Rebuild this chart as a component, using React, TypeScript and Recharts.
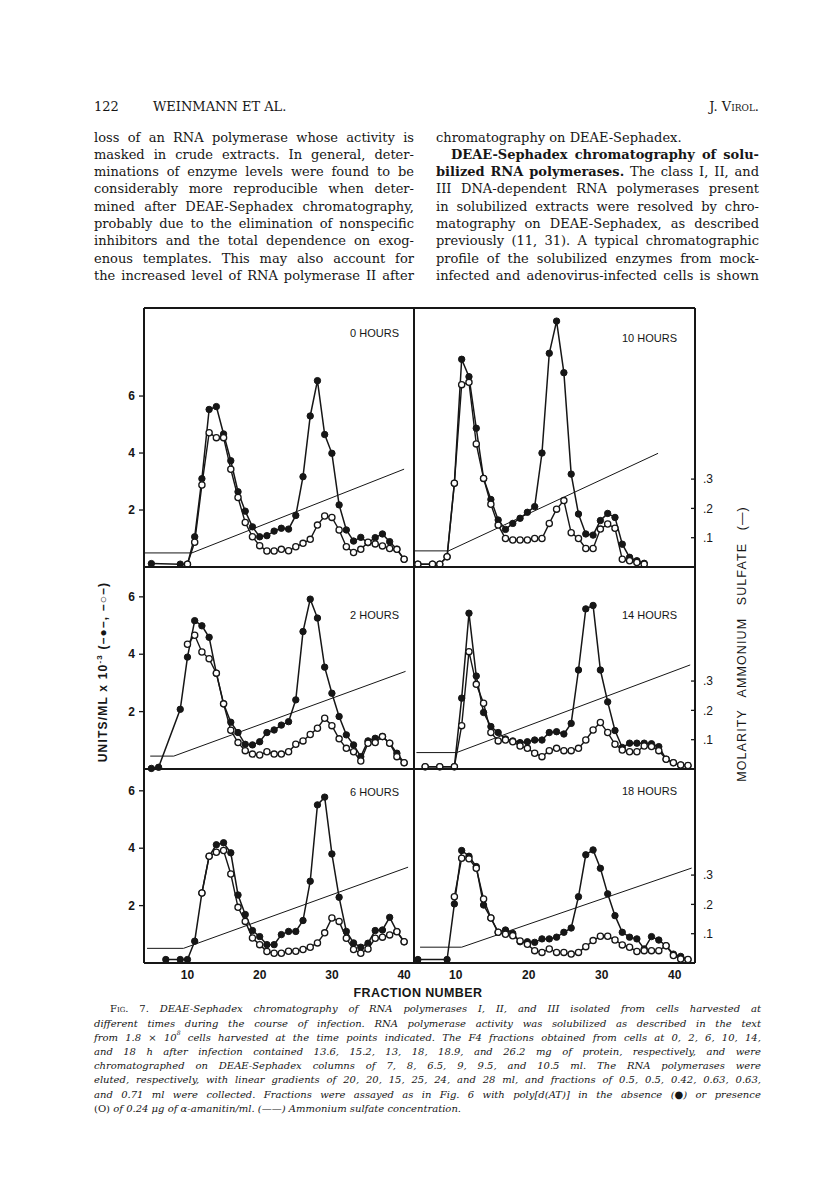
import React from "react";
import { LineChart, Line, XAxis, YAxis, ReferenceLine } from "recharts";

const INK = "#161616";
const SANS = '"Liberation Sans", Arial, Helvetica, sans-serif';
const SERIF = '"DejaVu Serif", "Liberation Serif", Georgia, serif';

// ---- axis ticks ----
const fractionTicks = [10, 20, 30, 40];
const unitTicks = [2, 4, 6];
const molarityTicks = [0.1, 0.2, 0.3];

// ---- 0 hours ----
const fractions0h = [5, 9, 10, 11, 12, 13, 14, 15, 16, 17, 18, 19, 20, 21, 22, 23, 24, 25, 26, 27, 28, 29, 30, 31, 32, 33, 34, 35, 36, 37, 38, 39, 40];
const minus0h = [0.12, 0.1, 0.1, 1.06, 3.1, 5.53, 5.63, 4.67, 3.73, 2.64, 1.96, 1.41, 1.06, 1.1, 1.26, 1.36, 1.33, 1.81, 3.17, 5.3, 6.54, 4.65, 3.99, 2.18, 1.3, 0.91, 1.04, 0.85, 1.03, 1.16, 0.89, 0.62, 0.27];
const plus0h = [null, null, 0.1, 0.87, 2.88, 4.71, 4.54, 4.54, 3.43, 2.44, 1.56, 1.06, 0.75, 0.56, 0.56, 0.62, 0.57, 0.71, 0.83, 0.97, 1.47, 1.79, 1.74, 1.3, 0.71, 0.51, 0.62, 0.87, 0.81, 0.74, 0.65, 0.62, 0.27];
const saltFractions0h = [4, 10.6, 40];
const saltMolarity0h = [0.048, 0.048, 0.334];

// ---- 2 hours ----
const fractions2h = [5, 6, 9, 10, 11, 12, 13, 14, 15, 16, 17, 18, 19, 20, 21, 22, 23, 24, 25, 26, 27, 28, 29, 30, 31, 32, 33, 34, 35, 36, 37, 38, 39, 40];
const minus2h = [0.02, 0.06, 2.08, 3.9, 5.17, 4.99, 4.59, 3.34, 2.27, 1.63, 1.27, 0.86, 0.84, 0.95, 1.27, 1.36, 1.53, 1.65, 2.41, 4.79, 5.92, 5.26, 3.55, 2.64, 1.83, 1.19, 0.84, 0.43, 0.98, 1.07, 1.13, 0.9, 0.55, 0.22];
const plus2h = [null, null, null, 4.35, 4.66, 4.08, 3.84, 3.34, 2.27, 1.35, 0.92, 0.64, 0.52, 0.49, 0.6, 0.52, 0.52, 0.6, 0.86, 0.98, 1.2, 1.42, 1.77, 1.51, 1.05, 0.72, 0.6, 0.28, 0.9, 0.92, 1.13, 0.9, 0.43, 0.22];
const saltFractions2h = [4.84, 8.1, 40.2];
const saltMolarity2h = [0.044, 0.044, 0.333];

// ---- 6 hours ----
const fractions6h = [7, 9, 10, 11, 12, 13, 14, 15, 16, 17, 18, 19, 20, 21, 22, 23, 24, 25, 26, 27, 28, 29, 30, 31, 32, 33, 34, 35, 36, 37, 38, 39, 40];
const minus6h = [0.12, 0.12, 0.12, 0.76, 2.44, 3.72, 4.12, 4.19, 3.84, 2.37, 1.69, 1.13, 0.92, 0.64, 0.64, 0.99, 1.1, 1.1, 1.48, 2.85, 5.51, 5.78, 3.8, 2.29, 1.1, 0.7, 0.55, 0.69, 1.13, 1.15, 1.59, 1.1, 0.74];
const plus6h = [null, null, null, null, 2.44, 3.72, 3.86, 3.92, 3.1, 1.94, 1.45, 0.87, 0.64, 0.4, 0.34, 0.34, 0.41, 0.41, 0.47, 0.55, 0.7, 1.05, 1.57, 1.45, 0.86, 0.47, 0.34, 0.49, 0.86, 0.9, 0.98, 1.09, 0.74];
const saltFractions6h = [4.4, 9.45, 40.55];
const saltMolarity6h = [0.05, 0.05, 0.327];

// ---- 10 hours ----
const fractions10h = [4, 6, 7, 8, 9, 10, 11, 12, 13, 14, 15, 16, 17, 18, 19, 20, 21, 22, 23, 24, 25, 26, 27, 28, 29, 30, 31, 32, 33, 34, 35];
const minus10h = [0.1, 0.1, 0.1, 0.36, 2.94, 7.29, 6.68, 4.87, 3.11, 2.37, 1.65, 1.32, 1.53, 1.71, 1.92, 2.12, 4.0, 7.5, 8.63, 6.82, 3.26, 1.86, 1.16, 1.12, 1.63, 1.88, 1.74, 0.8, 0.34, 0.22, 0.13];
const plus10h = [0.1, 0.1, 0.1, 0.36, 2.94, 6.4, 6.48, 4.32, 3.11, 2.2, 1.47, 1.0, 0.95, 0.95, 0.95, 1.0, 1.0, 1.53, 2.03, 2.33, 1.2, 1.0, 0.65, 0.65, 1.33, 1.51, 1.36, 0.27, 0.22, 0.16, 0.1];
const saltFractions10h = [3.5, 8.2, 36.9];
const saltMolarity10h = [0.055, 0.055, 0.388];

// ---- 14 hours ----
const fractions14h = [5, 7, 9, 10, 11, 12, 13, 14, 15, 16, 17, 18, 19, 20, 21, 22, 23, 24, 25, 26, 27, 28, 29, 30, 31, 32, 33, 34, 35, 36, 37, 38, 39, 40, 41];
const minus14h = [0.08, 0.08, 0.08, 2.47, 5.43, 3.24, 1.97, 1.48, 1.27, 1.05, 0.98, 0.92, 0.95, 1.01, 1.01, 1.27, 1.3, 1.22, 1.59, 3.45, 5.58, 5.7, 3.45, 2.34, 1.34, 0.75, 0.9, 0.9, 0.9, 0.88, 0.78, 0.34, 0.22, 0.14, 0.12];
const plus14h = [0.08, 0.08, 0.08, 1.51, 4.09, 2.95, 2.29, 1.27, 0.98, 1.01, 0.95, 0.8, 0.72, 0.55, 0.43, 0.64, 0.72, 0.64, 0.64, 0.72, 1.01, 1.36, 1.62, 1.27, 0.86, 0.66, 0.6, 0.6, 0.8, 0.78, 0.64, 0.34, 0.22, 0.14, 0.12];
const saltFractions14h = [3.8, 9.3, 41.3];
const saltMolarity14h = [0.056, 0.056, 0.355];

// ---- 18 hours ----
const fractions18h = [4, 8, 9, 10, 11, 12, 13, 14, 15, 16, 17, 18, 19, 20, 21, 22, 23, 24, 25, 26, 27, 28, 29, 30, 31, 32, 33, 34, 35, 36, 37, 38, 39, 40, 41];
const minus18h = [0.12, 0.12, 2.06, 3.92, 3.72, 3.36, 2.02, 1.57, 1.07, 1.15, 1.03, 0.74, 0.74, 0.72, 0.84, 0.84, 0.9, 1.07, 1.22, 2.31, 3.77, 3.94, 3.3, 2.41, 1.65, 1.07, 0.9, 0.84, 0.49, 0.92, 0.8, 0.6, 0.31, 0.23, 0.12];
const plus18h = [null, null, 2.31, 3.65, 3.63, 3.3, 2.23, 1.57, 1.07, 1.0, 0.95, 0.77, 0.65, 0.43, 0.37, 0.49, 0.37, 0.37, 0.31, 0.37, 0.57, 0.78, 0.93, 0.93, 0.8, 0.63, 0.55, 0.4, 0.43, 0.43, 0.43, 0.6, 0.26, 0.14, 0.12];
const saltFractions18h = [4.3, 10.0, 41.5];
const saltMolarity18h = [0.054, 0.054, 0.324];

// ---- layout ----
const M = 4;
const COLS: Record<string, any> = {
  left: { x: 144, w: 270, domain: [3.98, 41.37], labelRight: 399, tickShift: 0 },
  right: { x: 414, w: 281, domain: [3.47, 41.96], labelRight: 677, tickShift: -6 },
};
const ROWS = [
  { y: 308, h: 259, units: 9.09, molar: 0.884, bottom: false },
  { y: 567, h: 202, units: 7.04, molar: 0.689, bottom: false },
  { y: 769, h: 194, units: 6.76, molar: 0.662, bottom: true },
];

const PANELS = [
  { label: "0 HOURS", col: "left", row: 0, labelY: 333, fractions: fractions0h, minus: minus0h, plus: plus0h, saltF: saltFractions0h, saltM: saltMolarity0h },
  { label: "10 HOURS", col: "right", row: 0, labelY: 338, fractions: fractions10h, minus: minus10h, plus: plus10h, saltF: saltFractions10h, saltM: saltMolarity10h },
  { label: "2 HOURS", col: "left", row: 1, labelY: 615, fractions: fractions2h, minus: minus2h, plus: plus2h, saltF: saltFractions2h, saltM: saltMolarity2h },
  { label: "14 HOURS", col: "right", row: 1, labelY: 615, fractions: fractions14h, minus: minus14h, plus: plus14h, saltF: saltFractions14h, saltM: saltMolarity14h },
  { label: "6 HOURS", col: "left", row: 2, labelY: 792, fractions: fractions6h, minus: minus6h, plus: plus6h, saltF: saltFractions6h, saltM: saltMolarity6h },
  { label: "18 HOURS", col: "right", row: 2, labelY: 791, fractions: fractions18h, minus: minus18h, plus: plus18h, saltF: saltFractions18h, saltM: saltMolarity18h },
];

function FractionTick({ x, y, payload, shift }: any) {
  return (
    <text x={x + shift} y={y} dy="0.71em" textAnchor="middle" fill={INK} fontSize={12} fontWeight={700} fontFamily={SANS}>
      {payload.value}
    </text>
  );
}

function MolarityTick({ x, y, payload }: any) {
  const axisX = x - 8;
  return (
    <g>
      <line x1={axisX} x2={axisX - 4} y1={y} y2={y} stroke={INK} strokeWidth={1.3} />
      <text x={x} y={y} dy="0.35em" textAnchor="start" fill={INK} fontSize={12} fontFamily={SANS}>
        {String(payload.value).replace(/^0/, "")}
      </text>
    </g>
  );
}

function Panel(p: any) {
  const col = COLS[p.col];
  const row = ROWS[p.row];
  const isLeft = p.col === "left";
  const padL = isLeft ? 40 : 0;
  const padR = isLeft ? 0 : 34;
  const padB = row.bottom ? 26 : 0;
  const points = p.fractions.map((f: number, i: number) => ({ fraction: f, minus: p.minus[i], plus: p.plus[i] }));
  const salt = p.saltF.map((f: number, i: number) => ({ fraction: f, molarity: p.saltM[i] }));
  const frame = { stroke: INK, strokeWidth: 2 };
  const tickLine = { stroke: INK, strokeWidth: 1.3 };

  return (
    <>
      <div style={{ position: "absolute", left: col.x - padL - M, top: row.y - M }}>
        <LineChart
          width={padL + col.w + padR + 2 * M}
          height={row.h + padB + 2 * M}
          margin={{ top: M, right: M, bottom: M, left: M }}
        >
          {row.bottom ? (
            <XAxis
              xAxisId="f"
              type="number"
              dataKey="fraction"
              domain={col.domain}
              ticks={fractionTicks}
              interval={0}
              height={padB}
              axisLine={frame}
              tickLine={false}
              tickSize={0}
              tickMargin={7}
              tick={(t: any) => <FractionTick {...t} shift={col.tickShift} />}
            />
          ) : (
            <XAxis
              xAxisId="f"
              type="number"
              dataKey="fraction"
              domain={col.domain}
              ticks={fractionTicks}
              interval={0}
              mirror
              tick={false}
              tickSize={4}
              axisLine={frame}
              tickLine={tickLine}
            />
          )}
          {isLeft ? (
            <YAxis
              yAxisId="u"
              domain={[0, row.units]}
              ticks={unitTicks}
              interval={0}
              width={padL}
              tickSize={5}
              tickMargin={4}
              axisLine={frame}
              tickLine={tickLine}
              tick={{ fill: INK, fontSize: 12, fontWeight: 700, fontFamily: SANS }}
            />
          ) : (
            <YAxis yAxisId="u" domain={[0, row.units]} mirror tick={false} tickLine={false} axisLine={frame} />
          )}
          {isLeft ? (
            <YAxis
              yAxisId="m"
              orientation="right"
              domain={[0, row.molar]}
              ticks={molarityTicks}
              interval={0}
              mirror
              tick={false}
              tickSize={4}
              axisLine={frame}
              tickLine={tickLine}
            />
          ) : (
            <YAxis
              yAxisId="m"
              orientation="right"
              domain={[0, row.molar]}
              ticks={molarityTicks}
              interval={0}
              width={padR}
              tickSize={6}
              tickMargin={2}
              tickLine={false}
              axisLine={frame}
              tick={(t: any) => <MolarityTick {...t} />}
            />
          )}
          <ReferenceLine xAxisId="f" yAxisId="u" y={row.units} stroke={INK} strokeWidth={2} />
          <Line
            xAxisId="f"
            yAxisId="m"
            data={salt}
            dataKey="molarity"
            type="linear"
            stroke={INK}
            strokeWidth={1}
            dot={false}
            activeDot={false}
            isAnimationActive={false}
          />
          <Line
            xAxisId="f"
            yAxisId="u"
            data={points}
            dataKey="minus"
            type="linear"
            stroke={INK}
            strokeWidth={1.5}
            dot={{ r: 3.2, fill: INK, stroke: INK, strokeWidth: 1 }}
            activeDot={false}
            isAnimationActive={false}
          />
          <Line
            xAxisId="f"
            yAxisId="u"
            data={points}
            dataKey="plus"
            type="linear"
            stroke={INK}
            strokeWidth={1.4}
            dot={{ r: 3.1, fill: "#fff", stroke: INK, strokeWidth: 1.3 }}
            activeDot={false}
            isAnimationActive={false}
          />
        </LineChart>
      </div>
      <div
        style={{
          position: "absolute",
          left: col.labelRight - 120,
          width: 120,
          top: p.labelY - 7,
          lineHeight: "14px",
          textAlign: "right",
          fontFamily: SANS,
          fontSize: 11,
          color: INK,
          whiteSpace: "nowrap",
        }}
      >
        {p.label}
      </div>
    </>
  );
}

// ---- page text ----
const leftColumnLines = [
  "loss of an RNA polymerase whose activity is",
  "masked in crude extracts. In general, deter-",
  "minations of enzyme levels were found to be",
  "considerably more reproducible when deter-",
  "mined after DEAE-Sephadex chromatography,",
  "probably due to the elimination of nonspecific",
  "inhibitors and the total dependence on exog-",
  "enous templates. This may also account for",
  "the increased level of RNA polymerase II after",
];
const rightColumnLines = [
  "chromatography on DEAE-Sephadex.",
  "*DEAE-Sephadex *chromatography *of *solu-",
  "*bilized *RNA *polymerases. The class I, II, and",
  "III DNA-dependent RNA polymerases present",
  "in solubilized extracts were resolved by chro-",
  "matography on DEAE-Sephadex, as described",
  "previously (11, 31). A typical chromatographic",
  "profile of the solubilized enzymes from mock-",
  "infected and adenovirus-infected cells is shown",
];
const captionLines = [
  "~Fig. ~7. DEAE-Sephadex chromatography of RNA polymerases I, II, and III isolated from cells harvested at",
  "different times during the course of infection. RNA polymerase activity was solubilized as described in the text",
  "from 1.8 × 10^8 cells harvested at the time points indicated. The F4 fractions obtained from cells at 0, 2, 6, 10, 14,",
  "and 18 h after infection contained 13.6, 15.2, 13, 18, 18.9, and 26.2 mg of protein, respectively, and were",
  "chromatographed on DEAE-Sephadex columns of 7, 8, 6.5, 9, 9.5, and 10.5 ml. The RNA polymerases were",
  "eluted, respectively, with linear gradients of 20, 20, 15, 25, 24, and 28 ml, and fractions of 0.5, 0.5, 0.42, 0.63, 0.63,",
  "and 0.71 ml were collected. Fractions were assayed as in Fig. 6 with poly[d(AT)] in the absence (●) or presence",
  "~(O) of 0.24 μg of α-amanitin/ml. (——) Ammonium sulfate concentration.",
];

function renderToken(tok: string, i: number) {
  const style: React.CSSProperties = {};
  let t = tok;
  if (t.startsWith("*")) {
    style.fontWeight = "bold";
    t = t.slice(1);
  }
  if (t.startsWith("~")) {
    style.fontStyle = "normal";
    style.fontVariant = "small-caps";
    t = t.slice(1);
  }
  const m = t.match(/^(.*)\^(\d+)$/);
  const content = m ? (
    <>
      {m[1]}
      <sup style={{ fontSize: "0.6em", verticalAlign: "top", lineHeight: 1, position: "relative", top: -1 }}>{m[2]}</sup>
    </>
  ) : (
    t
  );
  return (
    <span key={i} style={style}>
      {content}
    </span>
  );
}

function TextLine({ text, width, justify, indent = 0, lh }: any) {
  const tokens = text.split(" ");
  if (justify) {
    return (
      <div
        style={{
          display: "flex",
          justifyContent: "space-between",
          width: width - indent,
          marginLeft: indent,
          height: lh,
          lineHeight: `${lh}px`,
          whiteSpace: "nowrap",
        }}
      >
        {tokens.map(renderToken)}
      </div>
    );
  }
  return (
    <div style={{ height: lh, lineHeight: `${lh}px`, marginLeft: indent, whiteSpace: "pre" }}>
      {tokens.map((t: string, i: number) => (
        <React.Fragment key={i}>
          {i > 0 ? " " : ""}
          {renderToken(t, i)}
        </React.Fragment>
      ))}
    </div>
  );
}

export default function App() {
  const bodyLH = 17.3;
  const capLH = 14.2;
  return (
    <div
      style={{
        position: "absolute",
        left: 0,
        top: 0,
        width: 816,
        height: 1193,
        background: "#fff",
        color: INK,
        overflow: "hidden",
        fontFamily: SERIF,
      }}
    >
      {/* running head */}
      <div style={{ position: "absolute", left: 94, top: 97.8, fontSize: 13, lineHeight: `${bodyLH}px` }}>122</div>
      <div style={{ position: "absolute", left: 153, top: 97.8, fontSize: 13, lineHeight: `${bodyLH}px` }}>WEINMANN ET AL.</div>
      <div
        style={{ position: "absolute", left: 559, width: 200, textAlign: "right", top: 97.8, fontSize: 13, lineHeight: `${bodyLH}px` }}
      >
        J. <span style={{ fontVariant: "small-caps" }}>Virol.</span>
      </div>

      {/* body text */}
      <div style={{ position: "absolute", left: 94, top: 128.6, width: 320, fontSize: 13 }}>
        {leftColumnLines.map((l, i) => (
          <TextLine key={i} text={l} width={320} justify lh={bodyLH} />
        ))}
      </div>
      <div style={{ position: "absolute", left: 436, top: 128.6, width: 323, fontSize: 13 }}>
        {rightColumnLines.map((l, i) => (
          <TextLine key={i} text={l} width={323} justify={i > 0} indent={i === 1 ? 15 : 0} lh={bodyLH} />
        ))}
      </div>

      {/* chart panels */}
      {PANELS.map((p) => (
        <Panel key={p.label} {...p} />
      ))}

      {/* axis titles */}
      <div
        style={{
          position: "absolute",
          left: 103,
          top: 672,
          transform: "translate(-50%, -50%) rotate(-90deg)",
          whiteSpace: "nowrap",
          fontFamily: SANS,
          fontSize: 12,
          fontWeight: 700,
          letterSpacing: 1.2,
          lineHeight: "14px",
        }}
      >
        UNITS/ML x 10<sup style={{ fontSize: 8, lineHeight: 0 }}>-3</sup> (–●–, –○–)
      </div>
      <div
        style={{
          position: "absolute",
          left: 742,
          top: 644,
          transform: "translate(-50%, -50%) rotate(-90deg)",
          whiteSpace: "nowrap",
          fontFamily: SANS,
          fontSize: 12.5,
          letterSpacing: 1.1,
          wordSpacing: 8,
          lineHeight: "14px",
        }}
      >
        MOLARITY AMMONIUM SULFATE (—)
      </div>
      <div
        style={{
          position: "absolute",
          left: 418,
          top: 993,
          transform: "translate(-50%, -50%)",
          whiteSpace: "nowrap",
          fontFamily: SANS,
          fontSize: 12.5,
          fontWeight: 700,
          letterSpacing: 0.4,
          lineHeight: "14px",
        }}
      >
        FRACTION NUMBER
      </div>

      {/* caption */}
      <div style={{ position: "absolute", left: 94, top: 1002.4, width: 667, fontSize: 10, fontStyle: "italic" }}>
        {captionLines.map((l, i) => (
          <TextLine key={i} text={l} width={667} justify={i < captionLines.length - 1} indent={i === 0 ? 16 : 0} lh={capLH} />
        ))}
      </div>
    </div>
  );
}
